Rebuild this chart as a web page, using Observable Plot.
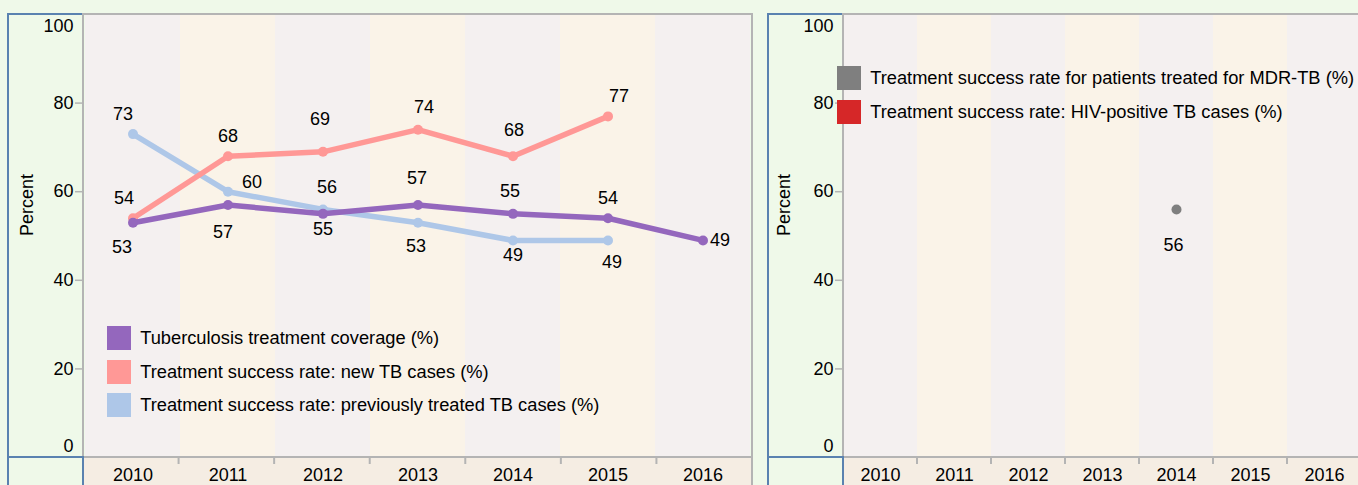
<!DOCTYPE html>
<html><head><meta charset="utf-8">
<script src="https://cdn.jsdelivr.net/npm/d3@7"></script>
<script src="https://cdn.jsdelivr.net/npm/@observablehq/plot@0.6"></script>
<style>
html,body{margin:0;padding:0;background:#eff9e9;}
#wrap{position:relative;width:1358px;height:485px;overflow:hidden;background:#eff9e9;font-family:'Liberation Sans',Arial,sans-serif;}
.panel{position:absolute;top:0;}
.legend{position:absolute;}
.lg-swatch{padding-bottom:9.5px !important;}
</style></head>
<body><div id="wrap">
<div id="p1" class="panel" style="left:0;width:760px"></div>
<div id="p2" class="panel" style="left:760px;width:610px"></div>
<div id="l1" class="legend" style="left:107px;top:326px;width:600px"></div>
<div id="l2" class="legend" style="left:837px;top:66px;width:600px"></div>
</div>
<script>
// ---- data ----
const years = ["2010", "2011", "2012", "2013", "2014", "2015", "2016"];
const coverage = [53, 57, 55, 57, 55, 54, 49];
const successNew = [54, 68, 69, 74, 68, 77, null];
const successPrev = [73, 60, 56, 53, 49, 49, null];
const successMdr = [null, null, null, null, 56, null, null];
const successHiv = [null, null, null, null, null, null, null];
const yTicks = [0, 20, 40, 60, 80, 100];
const leftNames = [
  "Tuberculosis treatment coverage (%)",
  "Treatment success rate: new TB cases (%)",
  "Treatment success rate: previously treated TB cases (%)"
];
const rightNames = [
  "Treatment success rate for patients treated for MDR-TB (%)",
  "Treatment success rate: HIV-positive TB cases (%)"
];
const axisTitle = "Percent";

// ---- styling / layout config ----
const COL = {cov: "#9467bd", newc: "#ff9896", prev: "#aec7e8", mdr: "#7f7f7f", hiv: "#d62728"};
const BAND_EVEN = "#f4f0f0", BAND_ODD = "#faf3e8", AXIS_BG = "#f5ede3";
const BLUE = "#5a82b0", GRAY = "#b4b4b4";
const FONT = "'Liberation Sans', Arial, sans-serif";
// per-label pixel nudges [dx, dy]
const nudgeCov = [[-11, 25], [-5, 27], [0, 15], [-1, -27], [-3, -23], [0, -20], [17, 0]];
const nudgeNew = [[-9, -20], [0, -20], [-3, -33], [6, -22], [1, -26], [11, -20], [0, 0]];
const nudgePrev = [[-10, -20], [24, -9], [4, -22], [-2, 24], [0, 15], [4, 22], [0, 0]];
const nudgeMdr = [[0, 0], [0, 0], [0, 0], [0, 0], [-3, 36], [0, 0], [0, 0]];
const nudgeHiv = nudgeMdr;

function rows(values, name) {
  return years.map((year, i) => ({year, value: values[i], name, i})).filter(d => d.value != null);
}

function decorBack(index, scales, values, dims) {
  const {width, height, marginLeft: ml, marginRight: mr, marginBottom: mb} = dims;
  const g = d3.create("svg:g");
  g.append("rect").attr("x", ml).attr("y", height - mb).attr("width", width - ml - mr).attr("height", mb).attr("fill", AXIS_BG);
  return g.node();
}
function decorFront(index, scales, values, dims) {
  const {width, height, marginLeft: ml, marginRight: mr, marginTop: mt, marginBottom: mb} = dims;
  const x0 = ml, x1 = width - mr, y0 = mt, y1 = height - mb, bx = ml - 75;
  const g = d3.create("svg:g").attr("fill", "none");
  g.append("rect").attr("x", bx).attr("y", y0).attr("width", ml - bx).attr("height", y1 - y0).attr("stroke", BLUE).attr("stroke-width", 2);
  g.append("path").attr("d", `M${x0},${height + 3}V${y0}H${x1}V${height + 3}`).attr("stroke", GRAY).attr("stroke-width", 2);
  g.append("line").attr("x1", x0).attr("x2", x1).attr("y1", y1).attr("y2", y1).attr("stroke", GRAY).attr("stroke-width", 2);
  const bw = (x1 - x0) / years.length;
  for (let i = 1; i < years.length; i++) {
    const x = x0 + i * bw;
    g.append("line").attr("x1", x).attr("x2", x).attr("y1", y1).attr("y2", y1 + 7).attr("stroke", GRAY).attr("stroke-width", 2);
  }
  g.append("rect").attr("x", bx).attr("y", y1).attr("width", ml - bx).attr("height", mb + 6).attr("stroke", BLUE).attr("stroke-width", 2);
  return g.node();
}

function seriesMarks(values, name, color, withLine) {
  const data = rows(values, name);
  const m = [];
  if (withLine) m.push(Plot.line(data, {x: "year", y: "value", stroke: color, strokeWidth: 5.5, strokeLinejoin: "round", strokeLinecap: "round"}));
  m.push(Plot.dot(data, {x: "year", y: "value", fill: color, r: 5}));
  return m;
}
function labelMarks(values, name, nudges) {
  return rows(values, name).map(d =>
    Plot.text([d], {x: "year", y: "value", text: r => String(r.value), dx: nudges[d.i][0], dy: nudges[d.i][1], fill: "black"})
  );
}

function panel(width, marginRight, titleDx, seriesList) {
  const marks = [
    decorBack,
    Plot.barY(years.filter((d, i) => i % 2 === 0), {x: d => d, y1: 0, y2: 100, fill: BAND_EVEN}),
    Plot.barY(years.filter((d, i) => i % 2 === 1), {x: d => d, y1: 0, y2: 100, fill: BAND_ODD}),
    decorFront,
    Plot.axisX({tickSize: 0, tickPadding: 11, fill: "black", label: null}),
    Plot.axisY(yTicks.filter(t => t > 0 && t < 100), {tickSize: 8, tickPadding: 2, stroke: GRAY, strokeWidth: 1.5, fill: "black", label: null}),
    Plot.axisY(yTicks.filter(t => t === 100), {tickSize: 0, tickPadding: 10, dy: 11.5, fill: "black", label: null}),
    Plot.axisY(yTicks.filter(t => t === 0), {tickSize: 0, tickPadding: 10, dy: -11.5, fill: "black", label: null}),
    Plot.text([axisTitle], {frameAnchor: "left", rotate: -90, dx: titleDx, text: d => d, fill: "black"})
  ];
  for (const s of seriesList) marks.push(...seriesMarks(s.values, s.name, s.color, s.line));
  for (const s of seriesList) marks.push(...labelMarks(s.values, s.name, s.nudges));
  return Plot.plot({
    width, height: 485,
    marginLeft: 83, marginRight, marginTop: 14, marginBottom: 28,
    x: {type: "band", domain: years, padding: 0, axis: null},
    y: {domain: [0, 100], axis: null},
    style: `background:transparent;font-family:${FONT};font-size:18px;color:#000;overflow:visible;max-width:none;`,
    marks
  });
}

document.getElementById("p1").append(panel(760, 8, -56, [
  {values: successPrev, name: leftNames[2], color: COL.prev, line: true, nudges: nudgePrev},
  {values: successNew, name: leftNames[1], color: COL.newc, line: true, nudges: nudgeNew},
  {values: coverage, name: leftNames[0], color: COL.cov, line: true, nudges: nudgeCov}
]));
document.getElementById("p2").append(panel(610, 9, -59, [
  {values: successHiv, name: rightNames[1], color: COL.hiv, line: true, nudges: nudgeHiv},
  {values: successMdr, name: rightNames[0], color: COL.mdr, line: true, nudges: nudgeMdr}
]));

const legStyle = `font-size:18.3px;font-family:${FONT};color:#000;margin:0;`;
document.getElementById("l1").append(Plot.legend({
  color: {type: "ordinal", domain: leftNames, range: [COL.cov, COL.newc, COL.prev]},
  legend: "swatches", columns: 1, swatchSize: 24, className: "lg", style: legStyle
}));
document.getElementById("l2").append(Plot.legend({
  color: {type: "ordinal", domain: rightNames, range: [COL.mdr, COL.hiv]},
  legend: "swatches", columns: 1, swatchSize: 24, className: "lg", style: legStyle
}));
</script>
</body></html>
